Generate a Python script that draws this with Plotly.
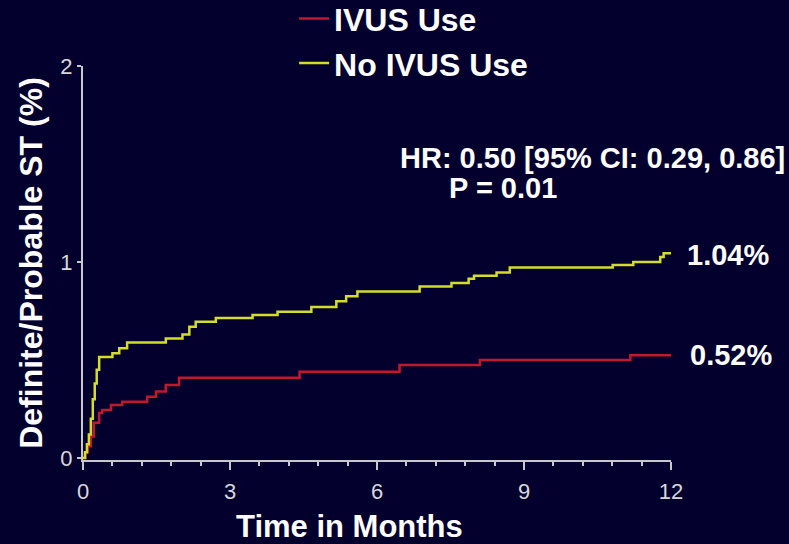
import plotly.graph_objects as go

# Time in months and cumulative definite/probable ST (%)
ivus_t = [0, 0.05, 0.10, 0.16, 0.22, 0.33, 0.39, 0.57, 0.80, 1.31, 1.49, 1.69, 1.96,
          4.42, 6.46, 8.10, 11.17, 12.0]
ivus_y = [0, 0.03, 0.06, 0.11, 0.18, 0.23, 0.245, 0.27, 0.287, 0.313, 0.34, 0.372, 0.41,
          0.44, 0.475, 0.50, 0.525, 0.525]

noivus_t = [0, 0.04, 0.08, 0.12, 0.16, 0.20, 0.24, 0.28, 0.33, 0.60, 0.74, 0.90, 1.69,
            2.03, 2.17, 2.30, 2.71, 3.46, 3.97, 4.66, 5.17, 5.37, 5.60, 6.87, 7.52,
            7.87, 7.98, 8.44, 8.71, 10.81, 11.23, 11.78, 11.85, 12.0]
noivus_y = [0, 0.03, 0.07, 0.12, 0.20, 0.30, 0.38, 0.45, 0.515, 0.535, 0.56, 0.59, 0.61,
            0.63, 0.67, 0.695, 0.714, 0.73, 0.746, 0.77, 0.80, 0.826, 0.85, 0.875, 0.893,
            0.915, 0.93, 0.947, 0.972, 0.985, 1.0, 1.025, 1.045, 1.045]

x_ticks = [0, 3, 6, 9, 12]
y_ticks = [0, 1, 2]
x_title = "Time in Months"
y_title = "Definite/Probable ST (%)"

BG = "#03002e"
AX = "#c8c8cc"
FONT = "Liberation Sans, Arial, sans-serif"

fig = go.Figure()
fig.add_trace(go.Scatter(x=ivus_t, y=ivus_y, mode="lines", name="IVUS Use",
                         line=dict(color="#c0182c", width=2.5, shape="hv")))
fig.add_trace(go.Scatter(x=noivus_t, y=noivus_y, mode="lines", name="No IVUS Use",
                         line=dict(color="#d4dc2c", width=2.5, shape="hv")))

fig.update_layout(
    width=789, height=544,
    paper_bgcolor=BG, plot_bgcolor=BG,
    margin=dict(l=83, r=118, t=66, b=84, autoexpand=False),
    font=dict(family=FONT, color="white"),
    legend=dict(x=0.359, y=1.19, xanchor="left", yanchor="top",
                bgcolor="rgba(0,0,0,0)",
                font=dict(size=32, color="white", family=FONT, weight="bold"),
                tracegroupgap=0, itemwidth=30),
    showlegend=True,
)
fig.update_xaxes(
    range=[0, 12], tickvals=x_ticks, ticktext=[str(v) for v in x_ticks],
    showgrid=False, zeroline=False, showline=True, linecolor=AX, linewidth=2,
    ticks="outside", ticklen=8, tickwidth=2, tickcolor=AX,
    minor=dict(dtick=0.6, tick0=0, ticks="outside", ticklen=4, tickcolor=AX, tickwidth=1.5),
    tickfont=dict(size=22, color="#d8d8dc"), ticklabelstandoff=3,
    automargin=False,
)
fig.update_yaxes(
    range=[-0.01, 2], tickvals=y_ticks, ticktext=[str(v) for v in y_ticks],
    showgrid=False, zeroline=False, showline=True, linecolor=AX, linewidth=2,
    ticks="outside", ticklen=4, tickwidth=1.5, tickcolor=AX,
    tickfont=dict(size=22, color="#d8d8dc"),
    title=dict(text=y_title, standoff=8,
               font=dict(size=32, color="white", weight="bold")),
    automargin=False,
)

# x-axis title (placed slightly left of centre, as in the reference)
fig.add_annotation(text=x_title, xref="paper", yref="paper",
                   x=0.454, y=-0.170, xanchor="center", yanchor="middle",
                   showarrow=False,
                   font=dict(size=31, color="white", family=FONT, weight="bold"))

ann_font = dict(size=29, color="white", family=FONT, weight="bold")
fig.add_annotation(text="HR: 0.50 [95% CI: 0.29, 0.86]", xref="paper", yref="paper",
                   x=1.197, y=0.766, xanchor="right", yanchor="middle",
                   showarrow=False, font=ann_font)
fig.add_annotation(text="P = 0.01", xref="paper", yref="paper",
                   x=0.619, y=0.690, xanchor="left", yanchor="middle",
                   showarrow=False, font=ann_font)
fig.add_annotation(text="1.04%", xref="paper", yref="paper",
                   x=1.024, y=0.520, xanchor="left", yanchor="middle",
                   showarrow=False, font=ann_font)
fig.add_annotation(text="0.52%", xref="paper", yref="paper",
                   x=1.029, y=0.267, xanchor="left", yanchor="middle",
                   showarrow=False, font=ann_font)

fig.write_html("out.html", config={"displayModeBar": False},
               post_script="document.body.style.margin='0';document.body.style.background='#03002e';")
